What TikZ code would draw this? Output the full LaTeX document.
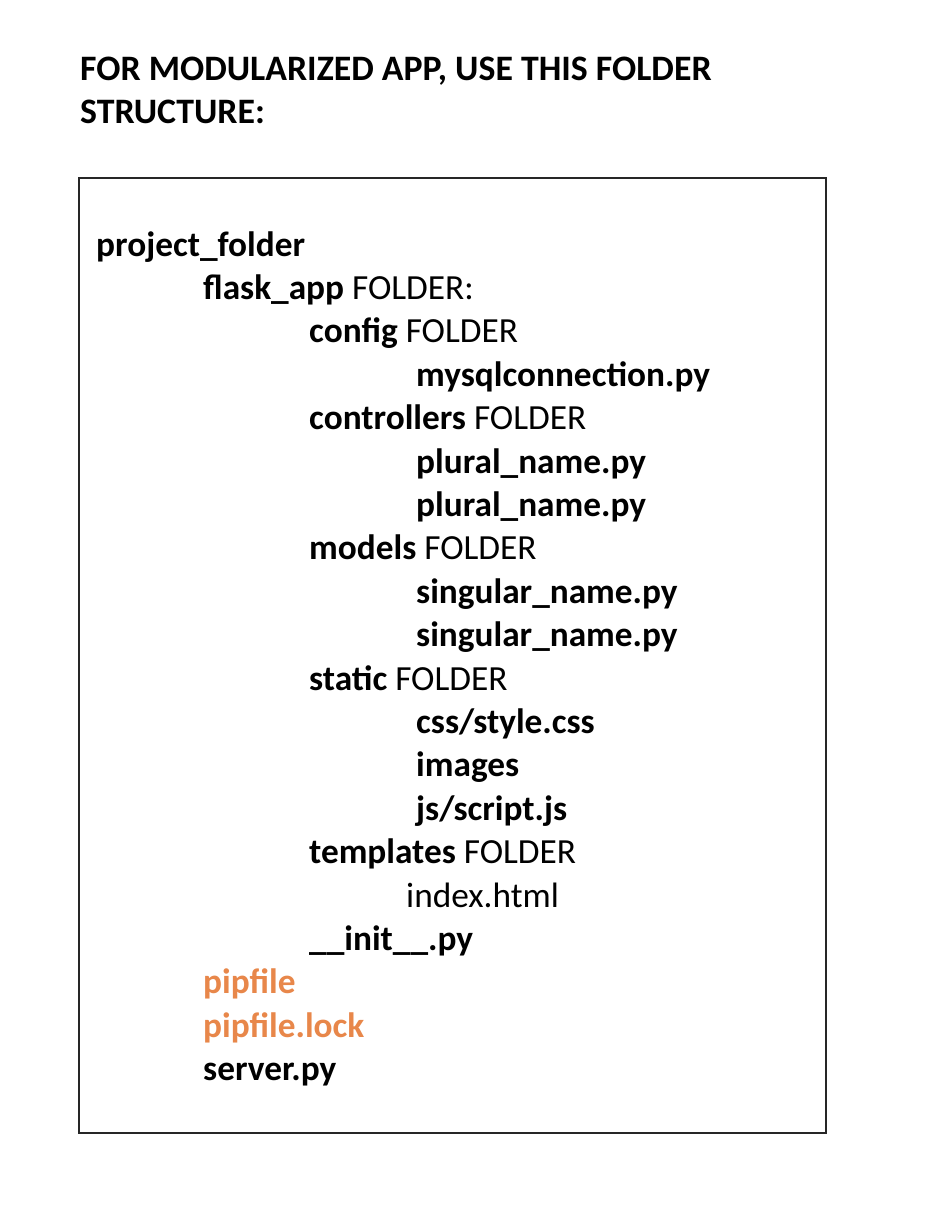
\documentclass[tikz,border=0pt]{standalone}
\usepackage{fontspec}
\setmainfont{Carlito}
\definecolor{pipor}{HTML}{E8874A}
\begin{document}
\begin{tikzpicture}[x=1pt,y=-1pt,
  txt/.style={anchor=base west,inner sep=0pt,font=\fontsize{35.3}{35}\selectfont},
  ttl/.style={txt,font=\fontsize{35.8}{36}\selectfont\bfseries},
  orf/.style={txt,text=pipor}]
\useasboundingbox[fill=white] (0,0) rectangle (924,1212);
\draw[line width=1.3pt,draw=black!85] (79,178) rectangle (826,1133);
\node[ttl] (t1) at (80,81) {FOR MODULARIZED APP, USE THIS FOLDER};
\node[ttl] (t2) at (80,124) {STRUCTURE:};
\def\L{43.4}
\def\B{256}
\node[txt] (r0) at (96,\B+0*\L) {\textbf{project\_folder}};
\node[txt] (r1) at (203,\B+1*\L) {\textbf{flask\_app} FOLDER:};
\node[txt] (r2) at (309,\B+2*\L) {\textbf{config} FOLDER};
\node[txt] (r3) at (416,\B+3*\L) {\textbf{mysqlconnection.py}};
\node[txt] (r4) at (309,\B+4*\L) {\textbf{controllers} FOLDER};
\node[txt] (r5) at (416,\B+5*\L) {\textbf{plural\_name.py}};
\node[txt] (r6) at (416,\B+6*\L) {\textbf{plural\_name.py}};
\node[txt] (r7) at (309,\B+7*\L) {\textbf{models} FOLDER};
\node[txt] (r8) at (416,\B+8*\L) {\textbf{singular\_name.py}};
\node[txt] (r9) at (416,\B+9*\L) {\textbf{singular\_name.py}};
\node[txt] (r10) at (309,\B+10*\L) {\textbf{static} FOLDER};
\node[txt] (r11) at (416,\B+11*\L) {\textbf{css/style.css}};
\node[txt] (r12) at (416,\B+12*\L) {\textbf{images}};
\node[txt] (r13) at (416,\B+13*\L) {\textbf{js/script.js}};
\node[txt] (r14) at (309,\B+14*\L) {\textbf{templates} FOLDER};
\node[txt] (r15) at (406,\B+15*\L) {index.html};
\node[txt] (r16) at (309,\B+16*\L) {\textbf{\_\_init\_\_.py}};
\node[orf] (r17) at (203,\B+17*\L) {\textbf{pipfile}};
\node[orf] (r18) at (203,\B+18*\L) {\textbf{pipfile.lock}};
\node[txt] (r19) at (203,\B+19*\L) {\textbf{server.py}};
\end{tikzpicture}
\end{document}
